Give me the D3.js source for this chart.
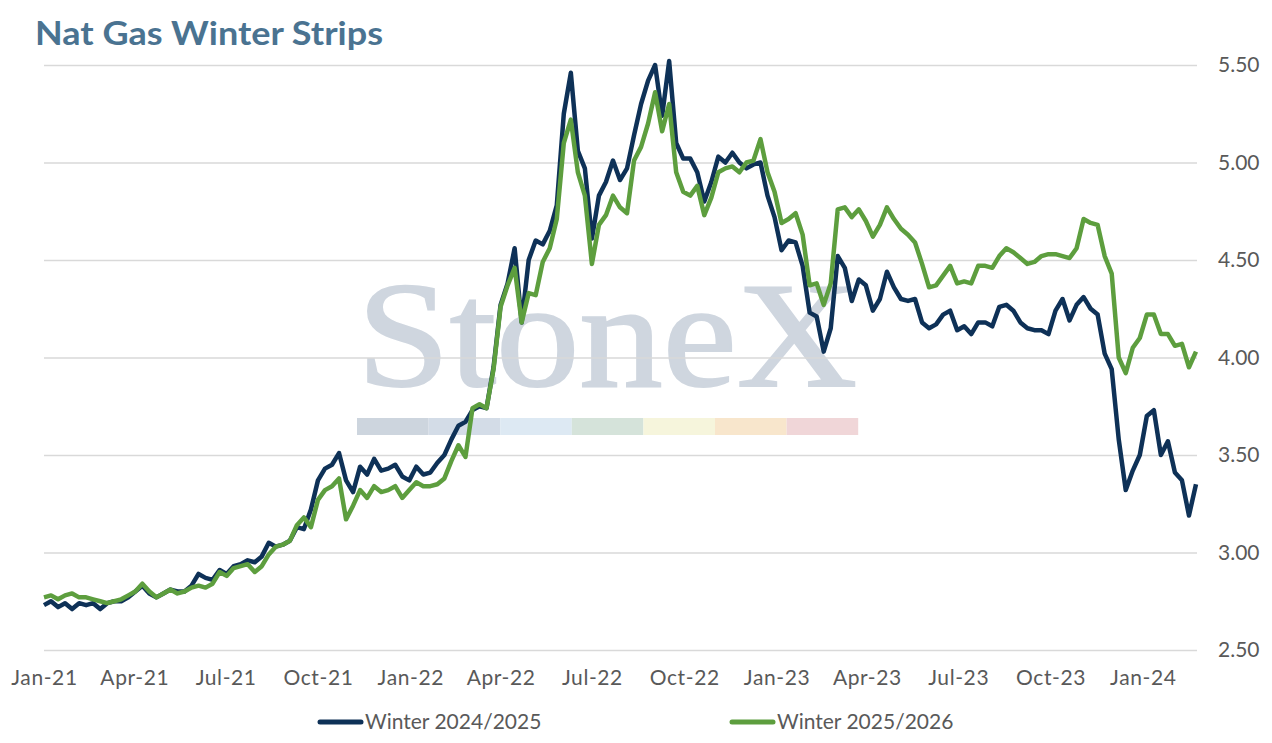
<html>
<head>
  <script type="text/javascript" src="https://d3js.org/d3.v7.min.js"></script>
  <style>
      body { margin: 0; background: #fff; }
      .tick text { font-family: Lato, "Open Sans", sans-serif; fill: #595959; }
  </style>
</head>
<body>
<div id="chart"></div>
<script>
    // weekly readings, first week starting 1 Jan 2021
    let startDate = new Date(2021, 0, 1);
    let endDate = new Date(2024, 1, 24);

    let winter2425 = [
        2.73, 2.75, 2.72, 2.74, 2.71, 2.74, 2.73, 2.74, 2.71, 2.74,
        2.75, 2.75, 2.77, 2.80, 2.83, 2.79, 2.77, 2.79, 2.81, 2.80,
        2.80, 2.83, 2.89, 2.87, 2.86, 2.91, 2.89, 2.93, 2.94, 2.96,
        2.95, 2.98, 3.05, 3.03, 3.04, 3.06, 3.13, 3.12, 3.22, 3.37,
        3.43, 3.45, 3.51, 3.37, 3.31, 3.44, 3.40, 3.48, 3.42, 3.43,
        3.45, 3.39, 3.37, 3.44, 3.40, 3.41, 3.46, 3.50, 3.58, 3.65,
        3.67, 3.73, 3.75, 3.74, 3.95, 4.27, 4.38, 4.56, 4.18, 4.50,
        4.60, 4.58, 4.65, 4.78, 5.25, 5.46, 5.06, 4.97, 4.61, 4.83,
        4.90, 5.01, 4.91, 4.97, 5.14, 5.30, 5.42, 5.50, 5.24, 5.52,
        5.10, 5.02, 5.02, 4.95, 4.80, 4.90, 5.03, 5.00, 5.05, 5.00,
        4.97, 4.99, 5.00, 4.83, 4.72, 4.55, 4.60, 4.59, 4.47, 4.23,
        4.21, 4.03, 4.15, 4.52, 4.46, 4.29, 4.40, 4.37, 4.24, 4.30,
        4.44, 4.36, 4.30, 4.29, 4.30, 4.18, 4.15, 4.17, 4.22, 4.24,
        4.14, 4.16, 4.12, 4.18, 4.18, 4.16, 4.26, 4.27, 4.24, 4.18,
        4.15, 4.14, 4.14, 4.12, 4.24, 4.30, 4.19, 4.27, 4.31, 4.25,
        4.22, 4.02, 3.94, 3.58, 3.32, 3.42, 3.50, 3.70, 3.73, 3.50,
        3.57, 3.41, 3.37, 3.19, 3.35
    ];

    let winter2526 = [
        2.77, 2.78, 2.76, 2.78, 2.79, 2.77, 2.77, 2.76, 2.75, 2.74,
        2.75, 2.76, 2.78, 2.80, 2.84, 2.80, 2.77, 2.79, 2.81, 2.79,
        2.80, 2.82, 2.83, 2.82, 2.84, 2.90, 2.88, 2.92, 2.93, 2.94,
        2.90, 2.93, 2.99, 3.03, 3.04, 3.06, 3.14, 3.18, 3.13, 3.27,
        3.32, 3.34, 3.38, 3.17, 3.24, 3.32, 3.28, 3.34, 3.31, 3.32,
        3.34, 3.28, 3.32, 3.36, 3.34, 3.34, 3.35, 3.38, 3.47, 3.55,
        3.49, 3.74, 3.76, 3.74, 3.94, 4.26, 4.37, 4.46, 4.18, 4.33,
        4.32, 4.49, 4.56, 4.71, 5.10, 5.22, 4.95, 4.83, 4.48, 4.68,
        4.73, 4.83, 4.77, 4.74, 5.01, 5.08, 5.20, 5.36, 5.16, 5.30,
        4.95, 4.85, 4.83, 4.88, 4.73, 4.82, 4.95, 4.97, 4.98, 4.95,
        5.00, 5.01, 5.12, 4.95, 4.85, 4.69, 4.71, 4.74, 4.63, 4.37,
        4.38, 4.27, 4.38, 4.76, 4.77, 4.72, 4.76, 4.70, 4.62, 4.68,
        4.77, 4.71, 4.66, 4.63, 4.59, 4.48, 4.36, 4.37, 4.42, 4.47,
        4.38, 4.39, 4.38, 4.47, 4.47, 4.46, 4.52, 4.56, 4.54, 4.51,
        4.48, 4.49, 4.52, 4.53, 4.53, 4.52, 4.51, 4.56, 4.71, 4.69,
        4.68, 4.52, 4.43, 4.00, 3.92, 4.05, 4.10, 4.22, 4.22, 4.12,
        4.12, 4.06, 4.07, 3.95, 4.03
    ];

    let yTicks = [2.5, 3.0, 3.5, 4.0, 4.5, 5.0, 5.5];
    let seriesNames = ["Winter 2024/2025", "Winter 2025/2026"];
    let seriesColors = ["#0e3157", "#5d9e3e"];
    let stripColors = ["#cdd5de", "#d3dce7", "#dde9f3", "#d5e3da", "#f6f5dc", "#f8e6cc", "#f0d6d8"];

    let dates = winter2425.map((d, i) => d3.timeDay.offset(startDate, 7 * i));

    let width = 1272;
    let height = 743;
    let margin = {top: 65, right: 75, bottom: 93, left: 44};
    let CHART_WIDTH = width - margin.left - margin.right;
    let CHART_HEIGHT = height - margin.top - margin.bottom;

    const svg = d3.select('#chart')
        .append('svg')
        .attr('width', width)
        .attr('height', height);

    const xScale = d3.scaleTime()
        .domain([startDate, endDate])
        .range([margin.left, margin.left + CHART_WIDTH]);

    const yScale = d3.scaleLinear()
        .domain([2.5, 5.5])
        .range([margin.top + CHART_HEIGHT, margin.top]);

    // title
    svg.append("text")
        .attr("x", 35)
        .attr("y", 45)
        .attr("font-family", "Lato, 'Open Sans', sans-serif")
        .attr("font-weight", "bold")
        .attr("font-size", 33)
        .attr("textLength", 348)
        .attr("lengthAdjust", "spacingAndGlyphs")
        .attr("fill", "#4a7391")
        .text("Nat Gas Winter Strips");

    // watermark
    const wm = svg.append("g");
    wm.append("text")
        .attr("x", 357)
        .attr("y", 386)
        .attr("font-family", "'Liberation Serif', 'DejaVu Serif', serif")
        .attr("font-size", 150)
        .attr("textLength", 500)
        .attr("lengthAdjust", "spacingAndGlyphs")
        .attr("fill", "#cfd6df")
        .attr("stroke", "#cfd6df")
        .attr("stroke-width", 2)
        .text("StoneX");
    wm.selectAll("rect")
        .data(stripColors)
        .enter()
        .append("rect")
        .attr("x", (d, i) => 357 + i * 71.6)
        .attr("y", 418)
        .attr("width", 71.6)
        .attr("height", 17)
        .attr("fill", d => d);

    // gridlines
    svg.append("g")
        .attr("class", "grid")
        .attr("transform", "translate(" + (margin.left + CHART_WIDTH) + ",0)")
        .call(d3.axisRight(yScale).tickValues(yTicks).tickSize(-CHART_WIDTH).tickFormat(""))
        .call(g => g.select(".domain").remove())
        .call(g => g.selectAll("line").attr("stroke", "#d9d9d9").attr("stroke-width", 1.5));

    // y labels
    svg.append("g")
        .attr("transform", "translate(" + (margin.left + CHART_WIDTH) + ",0)")
        .call(d3.axisRight(yScale).tickValues(yTicks).tickSize(0).tickPadding(21).tickFormat(d3.format(".2f")))
        .call(g => g.select(".domain").remove())
        .call(g => g.selectAll("text").attr("font-size", 21));

    // x labels
    let quarters = d3.timeMonth.every(3).range(startDate, endDate);
    svg.append("g")
        .attr("transform", "translate(0," + (margin.top + CHART_HEIGHT) + ")")
        .call(d3.axisBottom(xScale).tickValues(quarters).tickSize(0).tickPadding(20).tickFormat(d3.timeFormat("%b-%y")))
        .call(g => g.select(".domain").remove())
        .call(g => g.selectAll("text").attr("font-size", 21).attr("letter-spacing", 0.6));

    // lines
    let line = d3.line()
        .x((d, i) => xScale(dates[i]))
        .y(d => yScale(d));

    [winter2425, winter2526].forEach((s, k) => {
        svg.append("path")
            .datum(s)
            .attr("fill", "none")
            .attr("stroke", seriesColors[k])
            .attr("stroke-width", 4.5)
            .attr("stroke-linejoin", "round")
            .attr("d", line);
    });

    // legend
    let legendX = [320, 732];
    const legend = svg.selectAll(".legend")
        .data(seriesNames)
        .enter()
        .append("g")
        .attr("class", "legend")
        .attr("transform", (d, i) => "translate(" + legendX[i] + ",722)");
    legend.append("line")
        .attr("x1", 0).attr("x2", 41)
        .attr("stroke", (d, i) => seriesColors[i])
        .attr("stroke-width", 5)
        .attr("stroke-linecap", "round");
    legend.append("text")
        .attr("x", 45)
        .attr("dy", "0.35em")
        .attr("font-family", "Lato, 'Open Sans', sans-serif")
        .attr("font-size", 21)
        .attr("fill", "#595959")
        .text(d => d);
</script>
</body>
</html>
